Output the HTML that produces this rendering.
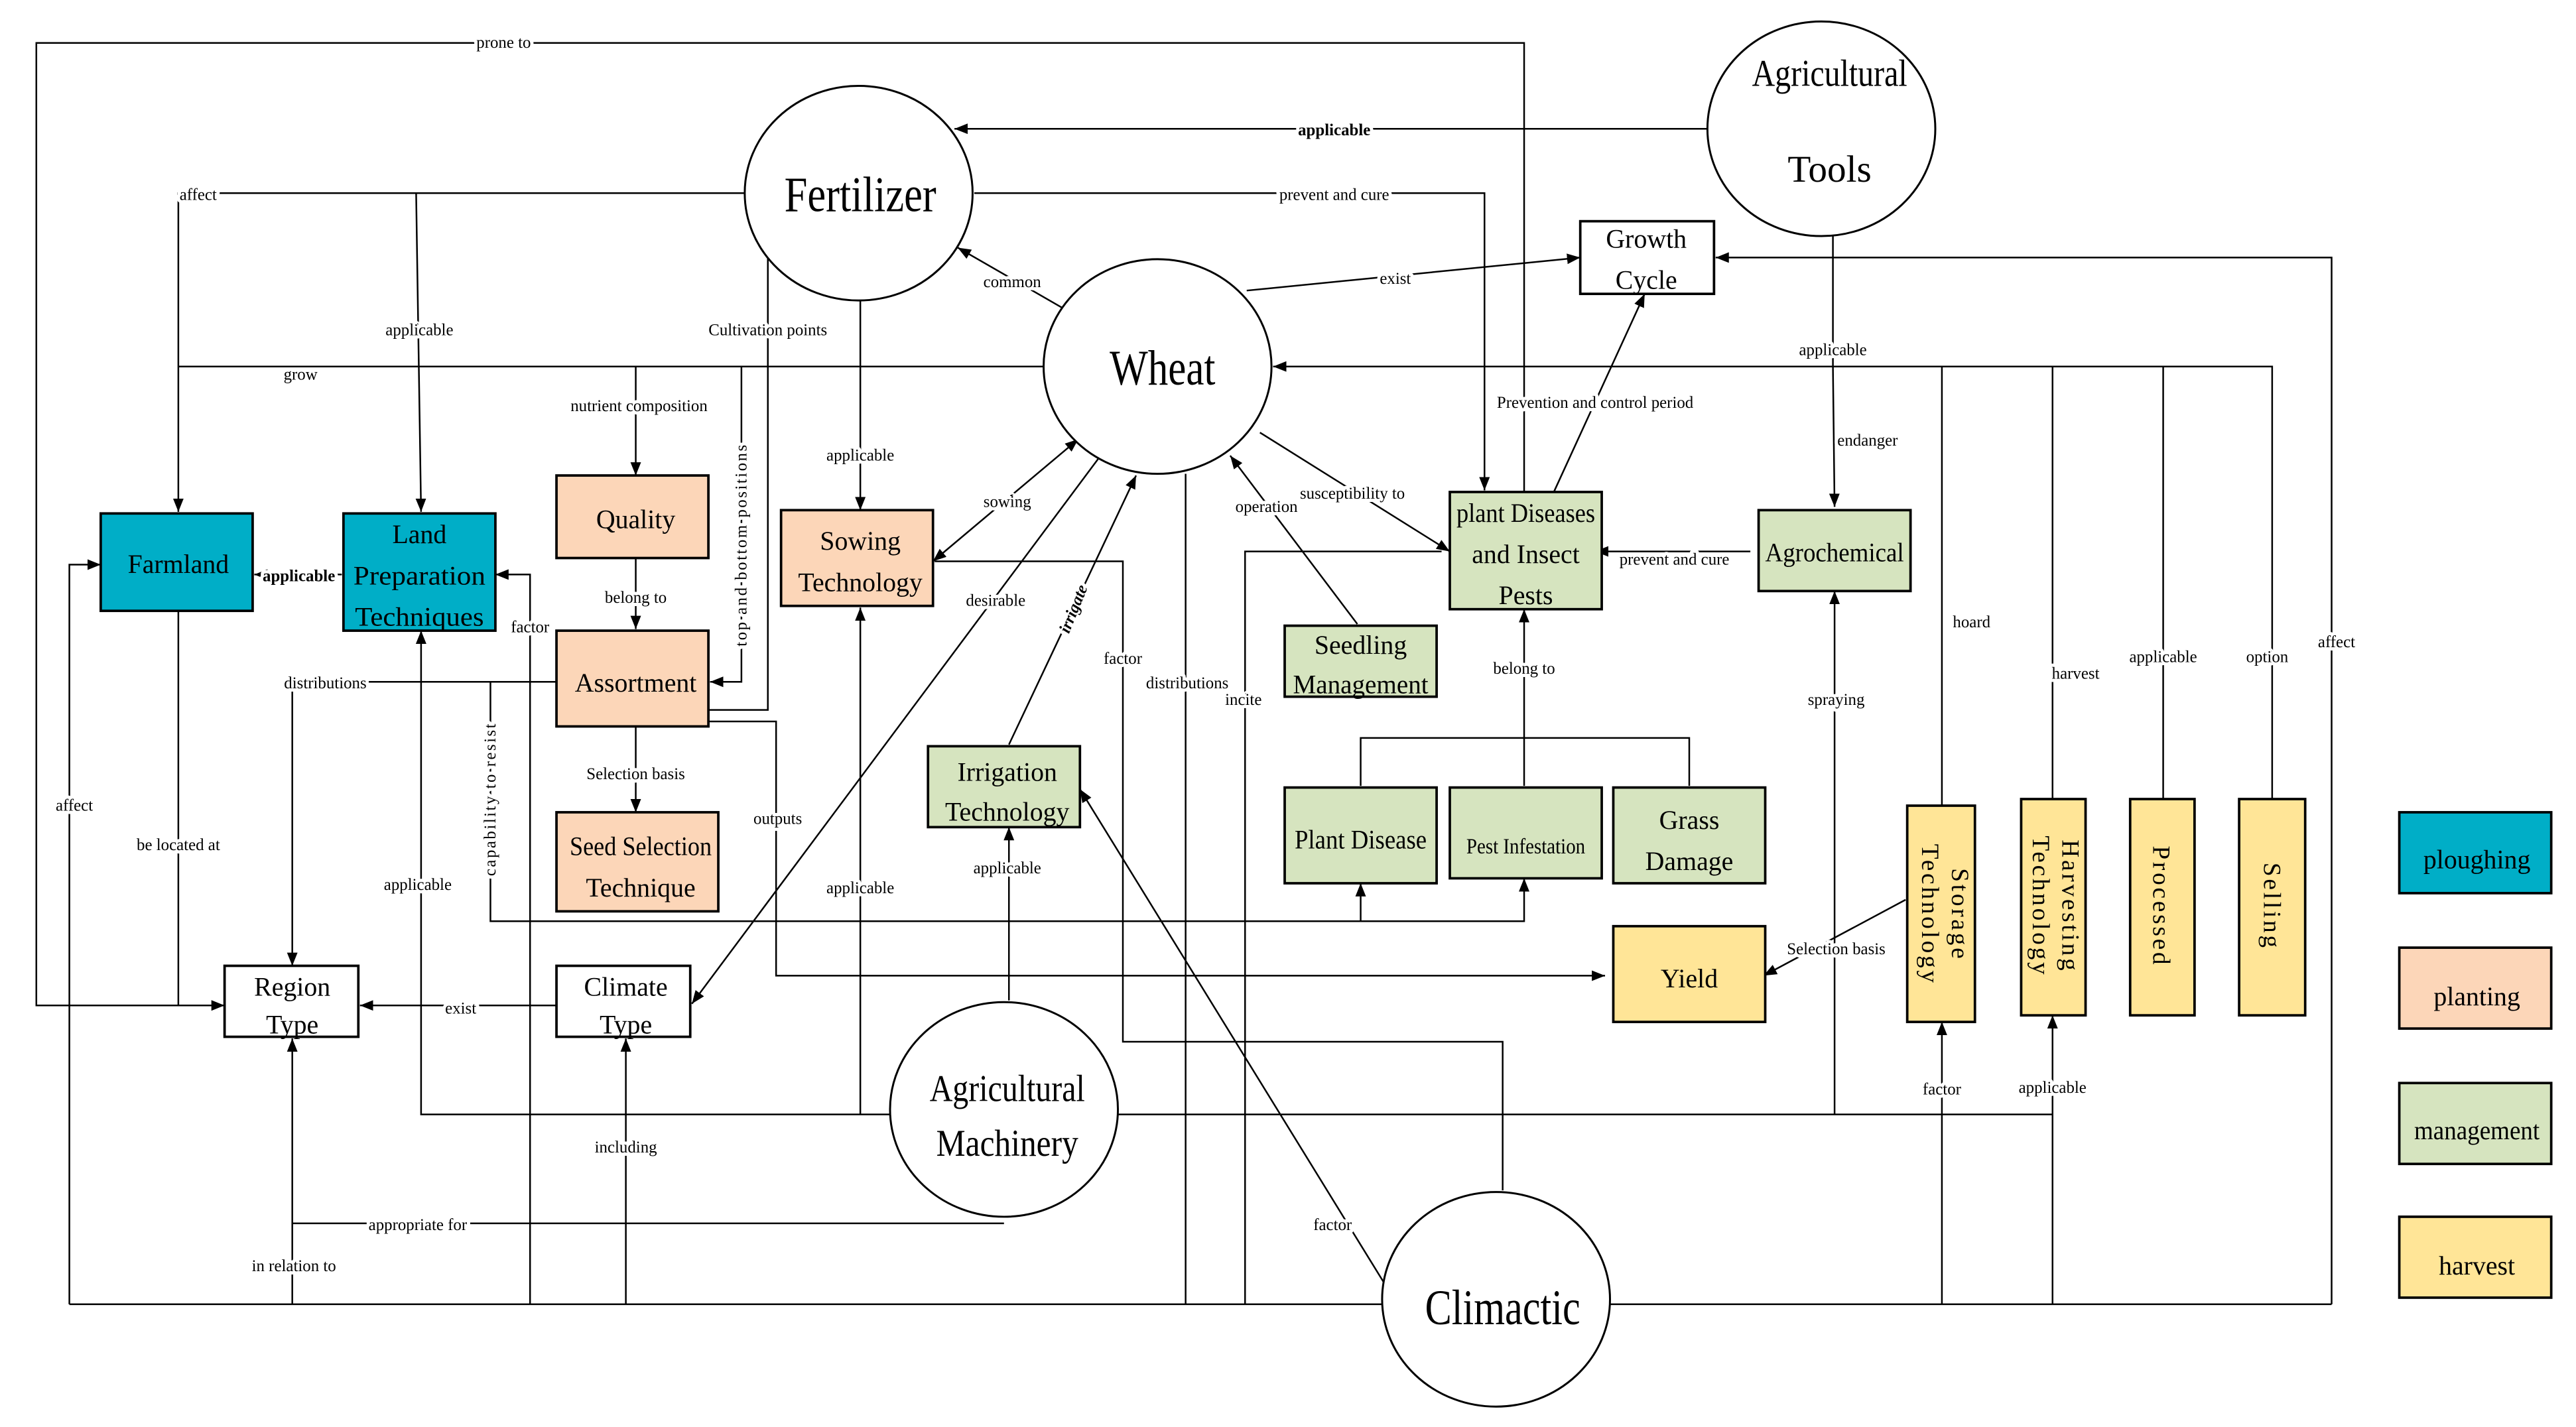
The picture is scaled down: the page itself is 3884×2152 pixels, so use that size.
<!DOCTYPE html>
<html><head><meta charset="utf-8"><style>
html,body{margin:0;padding:0;background:#fff}
svg{display:block}
text{font-family:"Liberation Serif",serif;fill:#000}
.n{font-size:16px;text-anchor:middle}
.l{font-size:10px;text-anchor:middle;stroke:#fff;stroke-width:4px;paint-order:stroke;stroke-linejoin:round}
.big{font-size:30px;text-anchor:middle}
.mid{font-size:23px;text-anchor:middle}
.v{font-size:15px;text-anchor:middle;letter-spacing:1.5px}
</style></head><body>
<svg width="3884" height="2152" viewBox="0 0 1560 864.35" xmlns="http://www.w3.org/2000/svg">
<defs>
<marker id="a" viewBox="0 0 10 10" refX="10" refY="5" markerWidth="8" markerHeight="8" markerUnits="userSpaceOnUse" orient="auto-start-reverse"><path d="M0,1 L10,5 L0,9 z" fill="#000"/></marker>
</defs>
<g fill="none" stroke="#000" stroke-width="1">
<polyline points="923,298 923,26 22,26 22,609 136,609" marker-end="url(#a)"/>
<polyline points="108,369 108,609"/>
<polyline points="452,117 108,117 108,310" marker-end="url(#a)"/>
<polyline points="252,117 255,310" marker-end="url(#a)"/>
<polyline points="632,222 108,222"/>
<polyline points="385,222 385,288" marker-end="url(#a)"/>
<polyline points="449,222 449,413 430,413" marker-end="url(#a)"/>
<polyline points="429,430 465,430 465,140" marker-end="url(#a)"/>
<polyline points="385,338 385,381" marker-end="url(#a)"/>
<polyline points="385,440 385,492" marker-end="url(#a)"/>
<polyline points="207,348 154,348" marker-end="url(#a)"/>
<polyline points="321,790 321,348 300,348" marker-end="url(#a)"/>
<polyline points="337,413 177,413 177,585" marker-end="url(#a)"/>
<polyline points="297,413 297,558 923,558 923,532" marker-end="url(#a)"/>
<polyline points="824,558 824,535" marker-end="url(#a)"/>
<polyline points="539,675 255,675 255,382" marker-end="url(#a)"/>
<polyline points="521,675 521,368" marker-end="url(#a)"/>
<polyline points="429,437 470,437 470,591 972,591" marker-end="url(#a)"/>
<polyline points="521,182 521,309" marker-end="url(#a)"/>
<line x1="565" y1="340" x2="653" y2="266" marker-start="url(#a)" marker-end="url(#a)"/>
<line x1="665" y1="278" x2="419" y2="608" marker-end="url(#a)"/>
<line x1="611" y1="451" x2="688" y2="288" marker-end="url(#a)"/>
<polyline points="566,340 680,340 680,631 910,631 910,721"/>
<line x1="718" y1="287" x2="718" y2="790"/>
<polyline points="873,334 754,334 754,790"/>
<line x1="822" y1="378" x2="745" y2="276" marker-end="url(#a)"/>
<line x1="763" y1="262" x2="878" y2="334" marker-end="url(#a)"/>
<line x1="646" y1="188" x2="580" y2="150" marker-end="url(#a)"/>
<line x1="755" y1="176" x2="957" y2="156" marker-end="url(#a)"/>
<polyline points="590,117 899,117 899,297" marker-end="url(#a)"/>
<line x1="1040" y1="78" x2="578" y2="78" marker-end="url(#a)"/>
<line x1="941" y1="298" x2="996" y2="178" marker-end="url(#a)"/>
<line x1="1110" y1="143" x2="1110" y2="222"/>
<line x1="1110" y1="222" x2="1111" y2="307" marker-end="url(#a)"/>
<polyline points="1376,485 1376,222 771,222" marker-end="url(#a)"/>
<line x1="1176" y1="222" x2="1176" y2="489"/>
<line x1="1243" y1="222" x2="1243" y2="485"/>
<line x1="1310" y1="222" x2="1310" y2="485"/>
<polyline points="1412,790 1412,156 1039,156" marker-end="url(#a)"/>
<line x1="1060" y1="334" x2="966" y2="334" marker-end="url(#a)"/>
<polyline points="677,675 1243,675"/>
<line x1="1111" y1="675" x2="1111" y2="358" marker-end="url(#a)"/>
<line x1="1176" y1="790" x2="1176" y2="619" marker-end="url(#a)"/>
<line x1="1243" y1="790" x2="1243" y2="615" marker-end="url(#a)"/>
<line x1="923" y1="476" x2="923" y2="369" marker-end="url(#a)"/>
<polyline points="824,476 824,447 1023,447 1023,476"/>
<line x1="1154" y1="545" x2="1068" y2="591" marker-end="url(#a)"/>
<polyline points="42,790 838,790"/>
<polyline points="975,790 1412,790"/>
<polyline points="42,790 42,342 61,342" marker-end="url(#a)"/>
<line x1="379" y1="790" x2="379" y2="629" marker-end="url(#a)"/>
<line x1="177" y1="790" x2="177" y2="629" marker-end="url(#a)"/>
<polyline points="608,741 177,741"/>
<line x1="337" y1="609" x2="218" y2="609" marker-end="url(#a)"/>
<line x1="611" y1="606" x2="611" y2="501" marker-end="url(#a)"/>
<line x1="840" y1="780" x2="654" y2="478" marker-end="url(#a)"/>
</g>
<g fill="#fff" stroke="#000" stroke-width="1.2">
<ellipse cx="520" cy="117" rx="69" ry="65"/>
<ellipse cx="701" cy="222" rx="69" ry="65"/>
<ellipse cx="1103" cy="78" rx="69" ry="65"/>
<ellipse cx="608" cy="672" rx="69" ry="65"/>
<ellipse cx="906" cy="787" rx="69" ry="65"/>
</g>
<g stroke="#000" stroke-width="1.5">
<rect x="61" y="311" width="92" height="59" fill="#00AEC7"/>
<rect x="208" y="311" width="92" height="71" fill="#00AEC7"/>
<rect x="337" y="288" width="92" height="50" fill="#FCD6B8"/>
<rect x="337" y="382" width="92" height="58" fill="#FCD6B8"/>
<rect x="473" y="309" width="92" height="58" fill="#FCD6B8"/>
<rect x="337" y="492" width="98" height="60" fill="#FCD6B8"/>
<rect x="562" y="452" width="92" height="49" fill="#D6E4BF"/>
<rect x="136" y="585" width="81" height="43" fill="#fff"/>
<rect x="337" y="585" width="81" height="43" fill="#fff"/>
<rect x="957" y="134" width="81" height="44" fill="#fff"/>
<rect x="878" y="298" width="92" height="71" fill="#D6E4BF"/>
<rect x="1065" y="309" width="92" height="49" fill="#D6E4BF"/>
<rect x="778" y="379" width="92" height="43" fill="#D6E4BF"/>
<rect x="778" y="477" width="92" height="58" fill="#D6E4BF"/>
<rect x="878" y="477" width="92" height="55" fill="#D6E4BF"/>
<rect x="977" y="477" width="92" height="58" fill="#D6E4BF"/>
<rect x="977" y="561" width="92" height="58" fill="#FFE597"/>
<rect x="1155" y="488" width="41" height="131" fill="#FFE597"/>
<rect x="1224" y="484" width="39" height="131" fill="#FFE597"/>
<rect x="1290" y="484" width="39" height="131" fill="#FFE597"/>
<rect x="1356" y="484" width="40" height="131" fill="#FFE597"/>
<rect x="1453" y="492" width="92" height="49" fill="#00AEC7"/>
<rect x="1453" y="574" width="92" height="49" fill="#FCD6B8"/>
<rect x="1453" y="656" width="92" height="49" fill="#D6E4BF"/>
<rect x="1453" y="737" width="92" height="49" fill="#FFE597"/>
</g>
<text class="big" x="521" y="128" textLength="92" lengthAdjust="spacingAndGlyphs">Fertilizer</text>
<text class="big" x="704" y="233" textLength="64" lengthAdjust="spacingAndGlyphs">Wheat</text>
<text class="mid" x="1108" y="52" textLength="94" lengthAdjust="spacingAndGlyphs">Agricultural</text>
<text class="mid" x="1108" y="110">Tools</text>
<text class="mid" x="610" y="667" textLength="94" lengthAdjust="spacingAndGlyphs">Agricultural</text>
<text class="mid" x="610" y="700" textLength="86" lengthAdjust="spacingAndGlyphs">Machinery</text>
<text class="big" x="910" y="802" textLength="94" lengthAdjust="spacingAndGlyphs">Climactic</text>
<text class="n" x="108" y="347">Farmland</text>
<text class="n" x="254" y="329">Land</text>
<text class="n" x="254" y="354" textLength="80" lengthAdjust="spacingAndGlyphs">Preparation</text>
<text class="n" x="254" y="379" textLength="78" lengthAdjust="spacingAndGlyphs">Techniques</text>
<text class="n" x="385" y="320">Quality</text>
<text class="n" x="385" y="419">Assortment</text>
<text class="n" x="521" y="333">Sowing</text>
<text class="n" x="521" y="358">Technology</text>
<text class="n" x="388" y="518" textLength="86" lengthAdjust="spacingAndGlyphs">Seed Selection</text>
<text class="n" x="388" y="543">Technique</text>
<text class="n" x="610" y="473">Irrigation</text>
<text class="n" x="610" y="497">Technology</text>
<text class="n" x="177" y="603">Region</text>
<text class="n" x="177" y="626">Type</text>
<text class="n" x="379" y="603">Climate</text>
<text class="n" x="379" y="626">Type</text>
<text class="n" x="997" y="150">Growth</text>
<text class="n" x="997" y="175">Cycle</text>
<text class="n" x="924" y="316" textLength="84" lengthAdjust="spacingAndGlyphs">plant Diseases</text>
<text class="n" x="924" y="341">and Insect</text>
<text class="n" x="924" y="366">Pests</text>
<text class="n" x="1111" y="340" textLength="84" lengthAdjust="spacingAndGlyphs">Agrochemical</text>
<text class="n" x="824" y="396">Seedling</text>
<text class="n" x="824" y="420" textLength="82" lengthAdjust="spacingAndGlyphs">Management</text>
<text class="n" x="824" y="514" textLength="80" lengthAdjust="spacingAndGlyphs">Plant Disease</text>
<text class="n" x="924" y="517" style="font-size:13px" textLength="72" lengthAdjust="spacingAndGlyphs">Pest Infestation</text>
<text class="n" x="1023" y="502">Grass</text>
<text class="n" x="1023" y="527">Damage</text>
<text class="n" x="1023" y="598">Yield</text>
<text class="n" x="1500" y="526">ploughing</text>
<text class="n" x="1500" y="609">planting</text>
<text class="n" x="1500" y="690" textLength="76" lengthAdjust="spacingAndGlyphs">management</text>
<text class="n" x="1500" y="772">harvest</text>
<text class="v" transform="translate(1182,554) rotate(90)">Storage</text>
<text class="v" transform="translate(1164,554) rotate(90)">Technology</text>
<text class="v" transform="translate(1249,549) rotate(90)">Harvesting</text>
<text class="v" transform="translate(1231,549) rotate(90)">Technology</text>
<text class="v" transform="translate(1304,549) rotate(90)">Processed</text>
<text class="v" transform="translate(1371,549) rotate(90)">Selling</text>
<text class="l" x="305" y="29">prone to</text>
<text class="l" x="120" y="121">affect</text>
<text class="l" x="254" y="203">applicable</text>
<text class="l" x="182" y="230">grow</text>
<text class="l" x="387" y="249">nutrient composition</text>
<text class="l" x="465" y="203">Cultivation points</text>
<text class="l" style="font-size:10px;letter-spacing:1px" transform="translate(452,330) rotate(-90)">top and bottom positions</text>
<text class="l" x="385" y="365">belong to</text>
<text class="l" x="385" y="472">Selection basis</text>
<text class="l" x="181" y="352" style="font-weight:bold">applicable</text>
<text class="l" x="321" y="383">factor</text>
<text class="l" x="197" y="417">distributions</text>
<text class="l" style="letter-spacing:1px" transform="translate(300,484) rotate(-90)">capability to resist</text>
<text class="l" x="45" y="491">affect</text>
<text class="l" x="108" y="515">be located at</text>
<text class="l" x="253" y="539">applicable</text>
<text class="l" x="471" y="499">outputs</text>
<text class="l" x="521" y="279">applicable</text>
<text class="l" x="521" y="541">applicable</text>
<text class="l" x="610" y="307">sowing</text>
<text class="l" x="603" y="367">desirable</text>
<text class="l" style="font-weight:bold;font-style:italic" transform="translate(653,370) rotate(-68)">irrigate</text>
<text class="l" x="680" y="402">factor</text>
<text class="l" x="719" y="417">distributions</text>
<text class="l" x="753" y="427">incite</text>
<text class="l" x="767" y="310">operation</text>
<text class="l" x="819" y="302">susceptibility to</text>
<text class="l" x="613" y="174">common</text>
<text class="l" x="845" y="172">exist</text>
<text class="l" x="808" y="121">prevent and cure</text>
<text class="l" x="808" y="82" style="font-weight:bold">applicable</text>
<text class="l" x="966" y="247">Prevention and control period</text>
<text class="l" x="1110" y="215">applicable</text>
<text class="l" x="1131" y="270">endanger</text>
<text class="l" x="1014" y="342">prevent and cure</text>
<text class="l" x="923" y="408">belong to</text>
<text class="l" x="1112" y="427">spraying</text>
<text class="l" x="1194" y="380">hoard</text>
<text class="l" x="1257" y="411">harvest</text>
<text class="l" x="1310" y="401">applicable</text>
<text class="l" x="1373" y="401">option</text>
<text class="l" x="1415" y="392">affect</text>
<text class="l" x="1112" y="578">Selection basis</text>
<text class="l" x="1176" y="663">factor</text>
<text class="l" x="1243" y="662">applicable</text>
<text class="l" x="279" y="614">exist</text>
<text class="l" x="610" y="529">applicable</text>
<text class="l" x="379" y="698">including</text>
<text class="l" x="253" y="745">appropriate for</text>
<text class="l" x="178" y="770">in relation to</text>
<text class="l" x="807" y="745">factor</text>
</svg>
</body></html>
